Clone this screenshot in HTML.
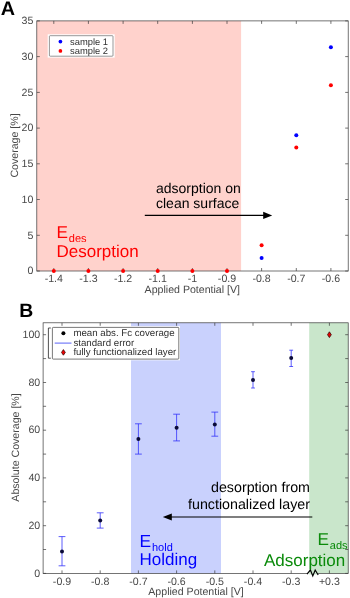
<!DOCTYPE html>
<html><head><meta charset="utf-8"><title>Chart</title>
<style>
html,body{margin:0;padding:0;background:#fff;}
body{width:350px;height:598px;overflow:hidden;}
svg{display:block;will-change:transform;}
text{font-family:"Liberation Sans",sans-serif;text-rendering:geometricPrecision;}
.tk{font-size:10.6px;fill:#484848;}
.ax{stroke:#3a3a3a;stroke-width:0.7;fill:none;}
</style></head><body>
<svg width="350" height="598" viewBox="0 0 350 598">
<rect width="350" height="598" fill="#fff"/>

<rect x="36.8" y="20.9" width="204.3" height="250.1" fill="#FFD2CC"/>
<rect class="ax" x="36.8" y="20.9" width="311.4" height="250.1"/>
<path class="ax" d="M53.8 271.0v-3M53.8 20.9v3"/>
<text class="tk" x="53.8" y="282.4" text-anchor="middle">-1.4</text>
<path class="ax" d="M88.4 271.0v-3M88.4 20.9v3"/>
<text class="tk" x="88.4" y="282.4" text-anchor="middle">-1.3</text>
<path class="ax" d="M123.1 271.0v-3M123.1 20.9v3"/>
<text class="tk" x="123.1" y="282.4" text-anchor="middle">-1.2</text>
<path class="ax" d="M157.7 271.0v-3M157.7 20.9v3"/>
<text class="tk" x="157.7" y="282.4" text-anchor="middle">-1.1</text>
<path class="ax" d="M192.4 271.0v-3M192.4 20.9v3"/>
<text class="tk" x="192.4" y="282.4" text-anchor="middle">-1</text>
<path class="ax" d="M227.0 271.0v-3M227.0 20.9v3"/>
<text class="tk" x="227.0" y="282.4" text-anchor="middle">-0.9</text>
<path class="ax" d="M261.6 271.0v-3M261.6 20.9v3"/>
<text class="tk" x="261.6" y="282.4" text-anchor="middle">-0.8</text>
<path class="ax" d="M296.3 271.0v-3M296.3 20.9v3"/>
<text class="tk" x="296.3" y="282.4" text-anchor="middle">-0.7</text>
<path class="ax" d="M330.9 271.0v-3M330.9 20.9v3"/>
<text class="tk" x="330.9" y="282.4" text-anchor="middle">-0.6</text>
<path class="ax" d="M36.8 271.0h3M348.2 271.0h-3"/>
<text class="tk" x="33.3" y="274.2" text-anchor="end">0</text>
<path class="ax" d="M36.8 235.3h3M348.2 235.3h-3"/>
<text class="tk" x="33.3" y="238.5" text-anchor="end">5</text>
<path class="ax" d="M36.8 199.5h3M348.2 199.5h-3"/>
<text class="tk" x="33.3" y="202.7" text-anchor="end">10</text>
<path class="ax" d="M36.8 163.8h3M348.2 163.8h-3"/>
<text class="tk" x="33.3" y="167.0" text-anchor="end">15</text>
<path class="ax" d="M36.8 128.1h3M348.2 128.1h-3"/>
<text class="tk" x="33.3" y="131.3" text-anchor="end">20</text>
<path class="ax" d="M36.8 92.4h3M348.2 92.4h-3"/>
<text class="tk" x="33.3" y="95.6" text-anchor="end">25</text>
<path class="ax" d="M36.8 56.6h3M348.2 56.6h-3"/>
<text class="tk" x="33.3" y="59.8" text-anchor="end">30</text>
<path class="ax" d="M36.8 20.9h3M348.2 20.9h-3"/>
<text class="tk" x="33.3" y="24.1" text-anchor="end">35</text>
<text class="tk" x="192.3" y="292.8" font-size="10.9" text-anchor="middle">Applied Potential [V]</text>
<text class="tk" transform="translate(17.5,145.5) rotate(-90)" text-anchor="middle">Coverage [%]</text>
<text x="0.8" y="14.6" font-size="19.8" font-weight="bold" fill="#000">A</text>
<circle cx="53.8" cy="271.0" r="2" fill="#f00"/>
<circle cx="88.4" cy="271.0" r="2" fill="#f00"/>
<circle cx="123.1" cy="271.0" r="2" fill="#f00"/>
<circle cx="157.7" cy="271.0" r="2" fill="#f00"/>
<circle cx="192.4" cy="271.0" r="2" fill="#f00"/>
<circle cx="227.0" cy="271.0" r="2" fill="#f00"/>
<circle cx="261.6" cy="245.3" r="2" fill="#f00"/>
<circle cx="296.3" cy="147.4" r="2" fill="#f00"/>
<circle cx="330.9" cy="85.2" r="2" fill="#f00"/>
<circle cx="261.6" cy="258.1" r="2" fill="#00f"/>
<circle cx="296.3" cy="135.2" r="2" fill="#00f"/>
<circle cx="330.9" cy="47.3" r="2" fill="#00f"/>
<rect x="47.7" y="34.3" width="67" height="23.3" fill="#fff"/>
<rect x="49.4" y="35.7" width="63.6" height="20.5" rx="0.8" fill="#fff" stroke="#505050" stroke-width="0.6"/>
<circle cx="60.4" cy="41.6" r="1.85" fill="#00f"/>
<circle cx="60.4" cy="50.9" r="1.85" fill="#f00"/>
<text x="70" y="44.8" font-size="9.4" fill="#303030">sample 1</text>
<text x="70" y="53.8" font-size="9.4" fill="#303030">sample 2</text>
<text x="156" y="193" font-size="14" fill="#000">adsorption on</text>
<text x="156" y="208.2" font-size="14" fill="#000">clean surface</text>
<path d="M144.8 215.4H265" stroke="#000" stroke-width="1.2" fill="none"/>
<path d="M272.2 215.4L263.2 211.8V219Z" fill="#000"/>
<text x="56.5" y="238.4" font-size="17.2" fill="#f00">E<tspan font-size="11" dx="0.8" dy="3.8">des</tspan></text>
<text x="56.5" y="257.4" font-size="17" fill="#f00">Desorption</text>
<rect x="131" y="322.8" width="90" height="250.59999999999997" fill="#C9D1FD"/>
<rect x="309.2" y="322.8" width="39.0" height="250.59999999999997" fill="#C9E6CB"/>
<rect class="ax" x="43.1" y="322.8" width="305.09999999999997" height="250.59999999999997"/>
<path class="ax" d="M62.0 573.4v-3M62.0 322.8v3"/>
<text class="tk" x="62.0" y="584.8" text-anchor="middle">-0.9</text>
<path class="ax" d="M100.2 573.4v-3M100.2 322.8v3"/>
<text class="tk" x="100.2" y="584.8" text-anchor="middle">-0.8</text>
<path class="ax" d="M138.4 573.4v-3M138.4 322.8v3"/>
<text class="tk" x="138.4" y="584.8" text-anchor="middle">-0.7</text>
<path class="ax" d="M176.6 573.4v-3M176.6 322.8v3"/>
<text class="tk" x="176.6" y="584.8" text-anchor="middle">-0.6</text>
<path class="ax" d="M214.8 573.4v-3M214.8 322.8v3"/>
<text class="tk" x="214.8" y="584.8" text-anchor="middle">-0.5</text>
<path class="ax" d="M253.0 573.4v-3M253.0 322.8v3"/>
<text class="tk" x="253.0" y="584.8" text-anchor="middle">-0.4</text>
<path class="ax" d="M291.2 573.4v-3M291.2 322.8v3"/>
<text class="tk" x="291.2" y="584.8" text-anchor="middle">-0.3</text>
<path class="ax" d="M329.4 573.4v-3M329.4 322.8v3"/>
<text class="tk" x="329.4" y="584.8" text-anchor="middle">+0.3</text>
<path class="ax" d="M43.1 573.4h3M348.2 573.4h-3"/>
<text class="tk" x="40.2" y="576.6" text-anchor="end">0</text>
<path class="ax" d="M43.1 549.5h3M348.2 549.5h-3"/>
<path class="ax" d="M43.1 525.7h3M348.2 525.7h-3"/>
<text class="tk" x="40.2" y="528.9" text-anchor="end">20</text>
<path class="ax" d="M43.1 501.8h3M348.2 501.8h-3"/>
<path class="ax" d="M43.1 477.9h3M348.2 477.9h-3"/>
<text class="tk" x="40.2" y="481.1" text-anchor="end">40</text>
<path class="ax" d="M43.1 454.1h3M348.2 454.1h-3"/>
<path class="ax" d="M43.1 430.2h3M348.2 430.2h-3"/>
<text class="tk" x="40.2" y="433.4" text-anchor="end">60</text>
<path class="ax" d="M43.1 406.3h3M348.2 406.3h-3"/>
<path class="ax" d="M43.1 382.5h3M348.2 382.5h-3"/>
<text class="tk" x="40.2" y="385.7" text-anchor="end">80</text>
<path class="ax" d="M43.1 358.6h3M348.2 358.6h-3"/>
<path class="ax" d="M43.1 334.7h3M348.2 334.7h-3"/>
<text class="tk" x="40.2" y="337.9" text-anchor="end">100</text>
<text class="tk" x="196" y="595.1" font-size="10.9" text-anchor="middle">Applied Potential [V]</text>
<text class="tk" transform="translate(18.8,447.5) rotate(-90)" font-size="10.75" text-anchor="middle">Absolute Coverage [%]</text>
<text x="19.3" y="316.7" font-size="19.4" font-weight="bold" fill="#000">B</text>
<rect x="308" y="572.4" width="10" height="2" fill="#fff"/>
<rect x="309.2" y="572.4" width="8.8" height="2" fill="#C9E6CB"/>
<path d="M307 574.2L310.4 570L312.8 576L315.2 570L318.2 575" stroke="#000" stroke-width="1.2" fill="none" stroke-linejoin="miter"/>
<path d="M62.0 565.8V536.6M58.6 565.8h6.8M58.6 536.6h6.8" stroke="#3232fa" stroke-width="0.8" fill="none"/>
<circle cx="62.0" cy="551.4" r="2" fill="#0a0a38"/>
<path d="M100.2 528.1V512.8M96.8 528.1h6.8M96.8 512.8h6.8" stroke="#3232fa" stroke-width="0.8" fill="none"/>
<circle cx="100.2" cy="520.4" r="2" fill="#0a0a38"/>
<path d="M138.4 454.1V423.8M135.0 454.1h6.8M135.0 423.8h6.8" stroke="#3232fa" stroke-width="0.8" fill="none"/>
<circle cx="138.4" cy="439.0" r="2" fill="#0a0a38"/>
<path d="M176.6 440.9V414.2M173.2 440.9h6.8M173.2 414.2h6.8" stroke="#3232fa" stroke-width="0.8" fill="none"/>
<circle cx="176.6" cy="427.8" r="2" fill="#0a0a38"/>
<path d="M214.8 436.2V412.1M211.4 436.2h6.8M211.4 412.1h6.8" stroke="#3232fa" stroke-width="0.8" fill="none"/>
<circle cx="214.8" cy="424.5" r="2" fill="#0a0a38"/>
<path d="M253.0 388.0V371.7M251.1 388.0h3.8M251.1 371.7h3.8" stroke="#3232fa" stroke-width="0.8" fill="none"/>
<circle cx="253.0" cy="380.1" r="2" fill="#0a0a38"/>
<path d="M291.2 366.5V350.2M289.3 366.5h3.8M289.3 350.2h3.8" stroke="#3232fa" stroke-width="0.8" fill="none"/>
<circle cx="291.2" cy="357.9" r="2" fill="#0a0a38"/>
<path d="M329.4 331.8l1.9 2.9l-1.9 2.9l-1.9 -2.9Z" fill="#e80000" stroke="#3a0a0a" stroke-width="0.8"/>
<path d="M50.8 328h-2.4v30.2h2.4" stroke="#333" stroke-width="0.85" fill="none"/>
<rect x="51.4" y="326.2" width="128.6" height="34.1" fill="#fff"/>
<rect x="52.4" y="327.4" width="126.4" height="31.7" rx="0.8" fill="#fff" stroke="#404040" stroke-width="0.7"/>
<circle cx="63.4" cy="333.2" r="2" fill="#000"/>
<path d="M54.7 343.1h16.8" stroke="#6870f8" stroke-width="1.1"/>
<path d="M63.4 349.6l1.9 2.8l-1.9 2.8l-1.9 -2.8Z" fill="#f00000" stroke="#3a0a0a" stroke-width="0.8"/>
<text x="73.4" y="336.2" font-size="9.7" fill="#303030">mean abs. Fc coverage</text>
<text x="73.4" y="345.5" font-size="9.7" fill="#303030">standard error</text>
<text x="73.4" y="354.9" font-size="9.7" fill="#303030">fully functionalized layer</text>
<text x="310" y="492.4" font-size="14.25" fill="#000" text-anchor="end">desorption from</text>
<text x="310" y="508.7" font-size="14.25" fill="#000" text-anchor="end">functionalized layer</text>
<path d="M171 517H312.3" stroke="#000" stroke-width="1.2" fill="none"/>
<path d="M162.8 517L171.8 513.4V520.6Z" fill="#000"/>
<text x="139.6" y="547" font-size="17.4" fill="#00f">E<tspan font-size="11" dx="0.8" dy="3.7">hold</tspan></text>
<text x="139.6" y="565.4" font-size="17" fill="#00f">Holding</text>
<text x="317.5" y="545.4" font-size="17.2" fill="#0a8a0a">E<tspan font-size="11" dx="0.8" dy="4">ads</tspan></text>
<text x="264" y="565.8" font-size="17" fill="#0a8a0a">Adsorption</text>
</svg></body></html>
